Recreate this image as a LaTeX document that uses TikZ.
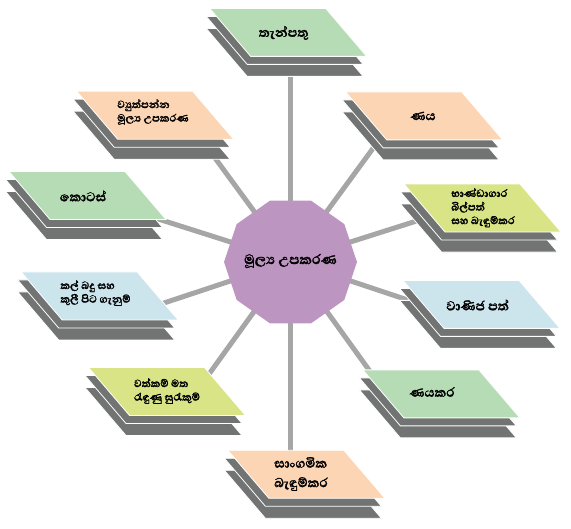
\documentclass[tikz,border=0pt]{standalone}
\usepackage{fontspec}
\newfontfamily\sinhalafont[Script=Sinhala, BoldFeatures={FakeBold=1.5}]{Abhaya Libre}
\usetikzlibrary{calc}
\pgfdeclarelayer{spokes}
\pgfdeclarelayer{sheets}
\pgfsetlayers{spokes,sheets,main}

\definecolor{hubpurple}{HTML}{BD95C1}
\definecolor{leafgreen}{HTML}{B6DCB5}
\definecolor{leafpeach}{HTML}{FCD5B4}
\definecolor{leaflime}{HTML}{D8E486}
\definecolor{leafblue}{HTML}{CCE4EC}
\definecolor{stackgrey}{HTML}{717473}
\definecolor{spokegrey}{HTML}{A6A6A6}

\tikzset{
  leaflarge/.style={font=\sinhalafont\bfseries\fontsize{16.5}{19.5}\selectfont, align=left, inner sep=0pt},
  leafsmall/.style={font=\sinhalafont\bfseries\fontsize{13.5}{13.6}\selectfont, align=left, inner sep=0pt},
  hublabel/.style={font=\sinhalafont\bfseries\fontsize{17.5}{20}\selectfont, inner sep=0pt},
  spoke/.style={draw=spokegrey, line width=5pt},
  sheet/.style={draw=white, line width=0.8pt},
}

% one stack: two grey sheets under a coloured parallelogram
\newcommand\leafstack[2]{%
  \begin{scope}[shift={(#1)}]
    \foreach \dy in {20,8}
      \filldraw[sheet, fill=stackgrey, shift={(-3.5,\dy)}]
        (-78.5,-24) -- (37.5,-24) -- (78.5,24) -- (-37.5,24) -- cycle;
    \filldraw[sheet, fill=#2]
      (-78.5,-24) -- (37.5,-24) -- (78.5,24) -- (-37.5,24) -- cycle;
  \end{scope}}

\begin{document}
\begin{tikzpicture}[x=1pt, y=-1pt]
\useasboundingbox (0,0) rectangle (571,529);

% labels
\node[hublabel] (hub) at (290.5,261) {මූල්^^^^200dය උපකරණ};
\node[leaflarge] (b1) at (283.6,33) {තැන්පතු};
\node[leaflarge] (b2) at (423,116) {ණය};
\node[leafsmall] (b3) at (483,207.7) {භාණ්ඩාගාර\\බිල්පත්\\සහ බැඳුම්කර};
\node[leaflarge] (b4) at (477.6,305) {වාණිජ පත්};
\node[leaflarge] (b5) at (432,392) {ණයකර};
\node[leaflarge] (b6) at (301,474) {සාංගමික\\බැඳුම්කර};
\node[leafsmall] (b7) at (167,391) {වත්කම් මත\\රැඳුණු සුරැකුම්};
\node[leafsmall] (b8) at (95.5,293) {කල් බදු සහ\\කුලී පිට ගැනුම්};
\node[leaflarge] (b9) at (83,196) {කොටස්};
\node[leafsmall] (b10) at (153,112) {ව්^^^^200dයුත්පන්න\\මූල්^^^^200dය උපකරණ};

% coloured sheets and the central decagon
\begin{pgfonlayer}{sheets}
  \fill[hubpurple] (290.5,262) +(0:66.5 and 64.5)
    \foreach \a in {36,72,...,324} { -- +(\a:66.5 and 64.5) } -- cycle;
  \leafstack{288.2,32.4}{leafgreen}
  \leafstack{424.2,115.9}{leafpeach}
  \leafstack{482.6,208.1}{leaflime}
  \leafstack{481.5,304.4}{leafblue}
  \leafstack{441.4,393.9}{leafgreen}
  \leafstack{306.4,474.3}{leafpeach}
  \leafstack{167.1,391.6}{leaflime}
  \leafstack{99.7,296}{leafblue}
  \leafstack{87.6,195.6}{leafgreen}
  \leafstack{155.1,115.2}{leafpeach}
\end{pgfonlayer}

% spokes running out from the hub under the sheets
\coordinate (e1) at ($(290.5,262)+(-90:195)$);
\coordinate (e2) at ($(290.5,262)+(-54:150)$);
\coordinate (e3) at ($(290.5,262)+(-18:140)$);
\coordinate (e4) at ($(290.5,262)+(18:140)$);
\coordinate (e5) at ($(290.5,262)+(54:145)$);
\coordinate (e6) at ($(290.5,262)+(90:195)$);
\coordinate (e7) at ($(290.5,262)+(126:145)$);
\coordinate (e8) at ($(290.5,262)+(162:145)$);
\coordinate (e9) at ($(290.5,262)+(198:142)$);
\coordinate (e10) at ($(290.5,262)+(234:140)$);
\begin{pgfonlayer}{spokes}
  \foreach \i in {1,...,10}
    \draw[spoke] (hub.center) -- (e\i);
\end{pgfonlayer}
\end{tikzpicture}
\end{document}
